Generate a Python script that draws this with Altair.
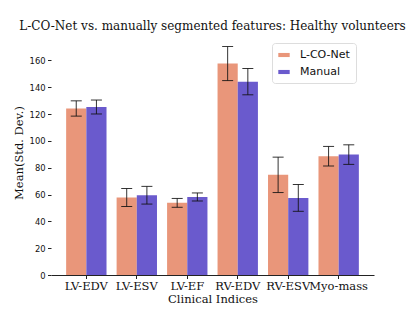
import altair as alt
import pandas as pd

categories = ["LV-EDV", "LV-ESV", "LV-EF", "RV-EDV", "RV-ESV", "Myo-mass"]
series = ["L-CO-Net", "Manual"]
lconet_mean = [124.2, 57.8, 53.8, 157.7, 74.7, 88.6]
lconet_std = [5.7, 6.7, 3.3, 12.7, 13.2, 7.3]
manual_mean = [125.3, 59.5, 58.2, 144.2, 57.5, 89.8]
manual_std = [5.2, 6.6, 3.0, 9.8, 10.0, 7.3]
colors = ["#E9967A", "#6A5ACD"]

rows = []
for i, c in enumerate(categories):
    rows.append({"cat": c, "s": series[0], "m": lconet_mean[i], "sd": lconet_std[i]})
    rows.append({"cat": c, "s": series[1], "m": manual_mean[i], "sd": manual_std[i]})
df = pd.DataFrame(rows)
df["lo"] = df["m"] - df["sd"]
df["hi"] = df["m"] + df["sd"]

W, H = 323, 240
xscale = alt.Scale(domain=categories, paddingInner=0.2, paddingOuter=0.3)
xax = alt.Axis(title="Clinical Indices", labelAngle=0, labelFont="DejaVu Serif",
               labelFontSize=11.5, labelColor="#111", titleFont="DejaVu Serif",
               titleFontSize=11.5, titleFontWeight="normal", titleColor="#111",
               titleY=27, titleBaseline="alphabetic",
               domainColor="#222", tickColor="#222", tickSize=3.5, labelPadding=1.5,
               labelOverlap=False, grid=False)
yscale = alt.Scale(domain=[0, 179], nice=False)
yax = alt.Axis(title="Mean(Std. Dev.)", values=[0, 20, 40, 60, 80, 100, 120, 140, 160],
               labelFont="DejaVu Sans", labelFontSize=8.4, labelColor="#111",
               labelOverlap=False,
               titleFont="DejaVu Serif", titleFontSize=11.5, titleFontWeight="normal",
               titleColor="#111", titleX=-32, titleY=117.5, titleAngle=270,
               titleAlign="center", titleBaseline="middle",
               domain=False, tickColor="#222", tickSize=3.5,
               labelPadding=2.4, grid=False)

xo = alt.XOffset("s:N", scale=alt.Scale(domain=series, paddingInner=0, paddingOuter=0))
X = alt.X("cat:N", scale=xscale, axis=xax, sort=categories)
base = alt.Chart(df)
bars = base.mark_bar().encode(
    x=X,
    xOffset=xo,
    y=alt.Y("m:Q", scale=yscale, axis=yax),
    color=alt.Color("s:N", scale=alt.Scale(domain=series, range=colors),
                    legend=alt.Legend(title=None, orient="none", legendX=221, legendY=8,
                                      labelFont="DejaVu Sans", labelFontSize=11,
                                      labelColor="#111",
                                      symbolType="M-1,-0.36L1,-0.36L1,0.36L-1,0.36Z",
                                      symbolSize=130, symbolStrokeWidth=0,
                                      symbolOpacity=1, rowPadding=6, labelOffset=10,
                                      strokeColor="#ddd", fillColor="white",
                                      cornerRadius=3, padding=6)),
)
rules = base.mark_rule(color="#111", opacity=0.85, strokeWidth=1).encode(
    x=X,
    xOffset=xo,
    y=alt.Y("lo:Q", scale=yscale, axis=yax),
    y2="hi:Q",
)
caps_lo = base.mark_tick(color="#111", opacity=0.85, thickness=1, size=11).encode(
    x=X,
    xOffset=xo,
    y=alt.Y("lo:Q", scale=yscale, axis=yax),
)
caps_hi = base.mark_tick(color="#111", opacity=0.85, thickness=1, size=11).encode(
    x=X,
    xOffset=xo,
    y=alt.Y("hi:Q", scale=yscale, axis=yax),
)

chart = alt.layer(bars, rules, caps_lo, caps_hi).properties(
    width=W, height=H,
    title=alt.TitleParams("L-CO-Net vs. manually segmented features: Healthy volunteers",
                          font="DejaVu Serif", fontSize=12, fontWeight="normal",
                          color="#111", anchor="middle", offset=2),
    autosize=alt.AutoSizeParams(type="none"),
    padding={"left": 43, "top": 27, "right": 33, "bottom": 28},
).configure_view(stroke=None)

chart.save("out.html", embed_options={"renderer": "svg", "actions": False})
